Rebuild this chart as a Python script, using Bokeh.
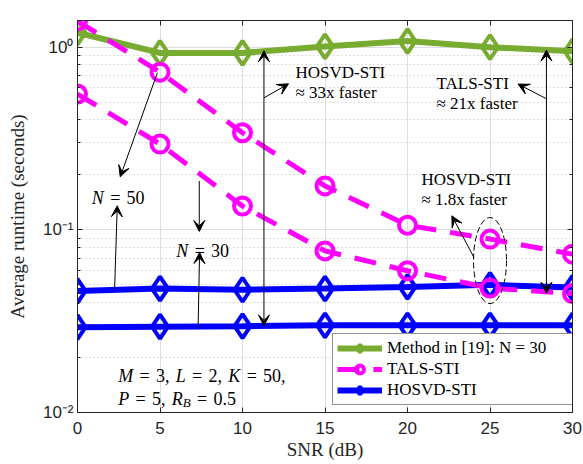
from bokeh.plotting import figure
from bokeh.models import (Arrow, VeeHead, Label, Legend, LegendItem, LinearAxis, LogAxis,
                          CustomJSTickFormatter, FixedTicker, Range1d)
from bokeh.embed import file_html
from bokeh.resources import INLINE

# ---- data: average runtime (seconds) versus SNR (dB) ----
snr_db = [0, 5, 10, 15, 20, 25, 30]
method19_n30 = [1.20, 0.93, 0.93, 1.01, 1.08, 1.00, 0.95]
tals_n50 = [1.39, 0.73, 0.34, 0.174, 0.106, 0.089, 0.0736]
tals_n30 = [0.554, 0.295, 0.135, 0.0767, 0.0597, 0.048, 0.0448]
hosvd_n50 = [0.0463, 0.0477, 0.047, 0.0477, 0.0487, 0.050, 0.0483]
hosvd_n30 = [0.0293, 0.0295, 0.0297, 0.0300, 0.0300, 0.0300, 0.0300]

x_ticks = [0, 5, 10, 15, 20, 25, 30]
legend_labels = ["Method in [19]: N = 30", "TALS-STI", "HOSVD-STI"]

GREEN = "#77AC30"
MAGENTA = "#FF00FF"
BLUE = "#0000FF"
INK = "#262626"
SERIF = "Liberation Serif"
SANS = "Liberation Sans"

p = figure(width=583, height=464, x_range=Range1d(0, 30), y_range=Range1d(0.01, 1.4),
           y_axis_type="log", output_backend="svg", toolbar_location=None,
           min_border_left=77, min_border_right=11, min_border_top=20, min_border_bottom=52)
p.background_fill_color = "white"
p.border_fill_color = "white"
p.outline_line_color = INK
p.outline_line_width = 1

# ---- axes ----
sup_fmt = CustomJSTickFormatter(code="""
const sup = {"-": "\u207b", "0": "\u2070", "1": "\u00b9", "2": "\u00b2", "3": "\u00b3",
             "4": "\u2074", "5": "\u2075", "6": "\u2076", "7": "\u2077", "8": "\u2078", "9": "\u2079"};
const e = Math.round(Math.log10(tick));
return "10" + String(e).split("").map(c => sup[c]).join("");
""")

xa = p.xaxis[0]
xa.ticker = FixedTicker(ticks=x_ticks)
xa.axis_label = "SNR (dB)"
ya = p.yaxis[0]
ya.formatter = sup_fmt
ya.axis_label = "Average runtime (seconds)"

for ax in (xa, ya):
    ax.axis_line_color = INK
    ax.major_tick_line_color = INK
    ax.minor_tick_line_color = INK
    ax.major_tick_in = 5
    ax.major_tick_out = 0
    ax.minor_tick_in = 3
    ax.minor_tick_out = 0
    ax.major_label_text_font = SANS
    ax.major_label_text_font_size = "17px"
    ax.major_label_text_color = INK
    ax.axis_label_text_font = SERIF
    ax.axis_label_text_font_size = "19px"
    ax.axis_label_text_font_style = "normal"
    ax.axis_label_text_color = INK
xa.minor_tick_line_color = None
xa.major_label_standoff = 9
xa.axis_label_standoff = 2
ya.major_label_standoff = 4
ya.axis_label_standoff = 12

# box-style mirror axes: ticks only, no labels
blank = CustomJSTickFormatter(code="return '';")
top_ax = LinearAxis(ticker=FixedTicker(ticks=x_ticks), formatter=blank,
                    axis_line_color=INK, major_tick_line_color=INK, minor_tick_line_color=None,
                    major_tick_in=5, major_tick_out=0, major_label_standoff=0)
right_ax = LogAxis(formatter=blank, axis_line_color=INK,
                   major_tick_line_color=INK, minor_tick_line_color=INK,
                   major_tick_in=5, major_tick_out=0, minor_tick_in=3, minor_tick_out=0,
                   major_label_standoff=0)
p.add_layout(top_ax, "above")
p.add_layout(right_ax, "right")

# ---- grid ----
p.xgrid.grid_line_color = "#dedede"
p.ygrid.grid_line_color = "#dedede"
p.ygrid.minor_grid_line_color = "#bdbdbd"
p.ygrid.minor_grid_line_dash = "1 3"

# ---- series ----
def diamond_series(y, color):
    ln = p.line(snr_db, y, line_color=color, line_width=6)
    mk = p.scatter(snr_db, y, marker="diamond", size=24, line_color=color, line_width=4,
                   fill_color=None)
    return ln, mk

def circle_series(y, color):
    ln = p.line(snr_db, y, line_color=color, line_width=5, line_dash="22 14")
    mk = p.scatter(snr_db, y, marker="circle", size=17, line_color=color, line_width=4,
                   fill_color=None)
    return ln, mk

g = diamond_series(method19_n30, GREEN)
h50 = diamond_series(hosvd_n50, BLUE)
h30 = diamond_series(hosvd_n30, BLUE)
t50 = circle_series(tals_n50, MAGENTA)
t30 = circle_series(tals_n30, MAGENTA)

legend = Legend(items=[
    LegendItem(label=legend_labels[0], renderers=list(g)),
    LegendItem(label=legend_labels[1], renderers=list(t50)),
    LegendItem(label=legend_labels[2], renderers=list(h50)),
], location=(255, 7), glyph_width=45, glyph_height=20, label_height=18,
   label_width=181, label_standoff=5, padding=4, spacing=1, margin=0,
   label_text_font=SERIF, label_text_font_size="17px", label_text_color="black",
   border_line_color=INK, border_line_width=1, background_fill_color="white",
   background_fill_alpha=1.0)
p.add_layout(legend)

# ---- annotations ----
def arrow(x0, y0, x1, y1, both=False):
    head = dict(size=11, fill_color="black", line_color="black", line_width=1)
    p.add_layout(Arrow(x_start=x0, y_start=y0, x_end=x1, y_end=y1,
                       start=VeeHead(**head) if both else None, end=VeeHead(**head),
                       line_color="black", line_width=1))

def text(x, y, s, size=17):
    p.add_layout(Label(x=x, y=y, text=s, text_font=SERIF, text_font_size=f"{size}px",
                       text_baseline="middle", text_align="left", text_color="black"))

# approximate Times advance widths (em) used to lay out inline math runs
ADV = {"0": .5, "1": .5, "2": .5, "3": .5, "5": .5, ".": .25, ",": .25, "=": .564,
       "N": .667, "M": .833, "L": .556, "K": .667, "P": .611, "R": .611, "B": .611}

def math_line(x, y, tokens, size=18, gap=0.35):
    """tokens: (text, italic, is_subscript); gaps go between tokens unless subscript."""
    off = 0.0
    for i, (s, italic, sub) in enumerate(tokens):
        fs = size * 0.72 if sub else size
        if i > 0 and not sub:
            off += gap * size
        p.add_layout(Label(x=x, y=y, x_offset=off, y_offset=-4 if sub else 0, text=s,
                           text_font=SERIF, text_font_size=f"{fs:.0f}px",
                           text_font_style="italic" if italic else "normal",
                           text_baseline="alphabetic", text_align="left", text_color="black"))
        off += sum(ADV.get(c, .5) for c in s) * fs

# N = 50 label with its two pointers
math_line(0.87, 0.1503, [("N", True, False), ("=", False, False), ("50", False, False)])
arrow(4.84, 0.724, 2.59, 0.195)
arrow(2.25, 0.0475, 2.41, 0.1355)

# N = 30 label with its two pointers
math_line(5.99, 0.0767, [("N", True, False), ("=", False, False), ("30", False, False)])
arrow(7.38, 0.185, 7.38, 0.098)
arrow(7.31, 0.0292, 7.40, 0.0751)

# speed-up between method [19] and HOSVD-STI
arrow(11.3, 0.0298, 11.3, 0.956, both=True)
arrow(11.3, 0.528, 12.79, 0.630)
text(13.21, 0.727, "HOSVD-STI")
text(13.21, 0.566, "\u2248 33x faster")

# speed-up between method [19] and TALS-STI
arrow(28.42, 0.045, 28.42, 0.964, both=True)
arrow(28.42, 0.522, 26.70, 0.628)
text(21.76, 0.630, "TALS-STI")
text(21.76, 0.49, "\u2248 21x faster")

# HOSVD-STI versus TALS-STI at 25 dB
p.ellipse(x=[25], y=[0.0679], width=33, height=86, width_units="screen",
          height_units="screen", fill_color=None, line_color="black", line_width=1,
          line_dash="6 3")
arrow(24.03, 0.0705, 22.69, 0.1193)
text(20.85, 0.188, "HOSVD-STI")
text(20.85, 0.146, "\u2248 1.8x faster")

# simulation parameters
math_line(2.47, 0.01586, [("M", True, False), ("=", False, False), ("3,", False, False),
                          ("L", True, False), ("=", False, False), ("2,", False, False),
                          ("K", True, False), ("=", False, False), ("50,", False, False)])
math_line(2.47, 0.01192, [("P", True, False), ("=", False, False), ("5,", False, False),
                          ("R", True, False), ("B", True, True), ("=", False, False),
                          ("0.5", False, False)])

open("out.html", "w").write(file_html(p, INLINE))
